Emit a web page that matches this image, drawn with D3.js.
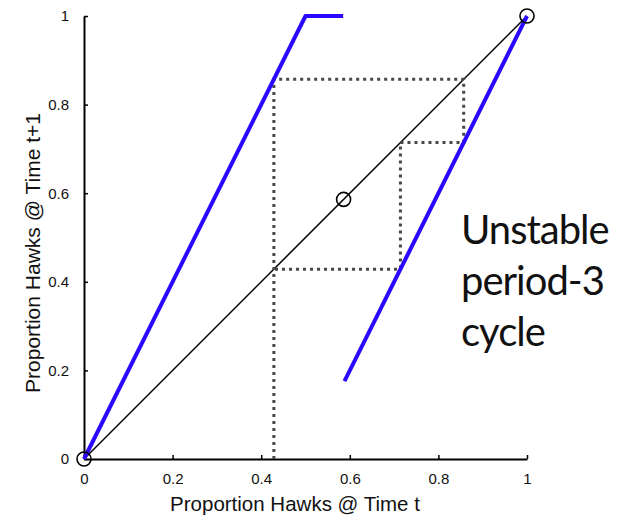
<!DOCTYPE html>
<html><head><meta charset="utf-8">
<script src="https://cdnjs.cloudflare.com/ajax/libs/d3/7.8.5/d3.min.js"></script>
<style>body{margin:0;background:#fff;}svg{display:block;}</style>
</head><body>
<script>
// Data
const tickValues = [0, 0.2, 0.4, 0.6, 0.8, 1];
const tickLabels = ["0", "0.2", "0.4", "0.6", "0.8", "1"];
const leftBranchX = [0, 0.5, 0.585];
const leftBranchY = [0, 1, 1];
const rightBranchX = [0.588, 1];
const rightBranchY = [0.176, 1];
const diagonalX = [0, 1];
const diagonalY = [0, 1];
const cycleX = [0.4286, 0.4286, 0.8571, 0.8571, 0.7143, 0.7143, 0.4286];
const cycleY = [0, 0.8571, 0.8571, 0.7143, 0.7143, 0.4286, 0.4286];
const fixedX = [0, 0.586, 1];
const fixedY = [0, 0.586, 1];
const annotationLines = ["Unstable", "period-3", "cycle"];
const xTitle = "Proportion Hawks @ Time t";
const yTitle = "Proportion Hawks @ Time t+1";

const W = 628, H = 517;
const svg = d3.select("body").append("svg").attr("width", W).attr("height", H);
const x = d3.scaleLinear().domain([0, 1]).range([84, 527]);
const y = d3.scaleLinear().domain([0, 1]).range([459, 16]);

const zip = (a, b) => a.map((v, i) => [v, b[i]]);
const line = d3.line().x(d => x(d[0])).y(d => y(d[1]));

// Axes
const fmt = (d) => tickLabels[tickValues.indexOf(d)];
const xAxis = svg.append("g").attr("transform", `translate(0,${y(0)})`)
  .call(d3.axisBottom(x).tickValues(tickValues).tickFormat(fmt).tickSizeInner(-4).tickSizeOuter(0).tickPadding(14));
const yAxis = svg.append("g").attr("transform", `translate(${x(0)},0)`)
  .call(d3.axisLeft(y).tickValues(tickValues).tickFormat(fmt).tickSizeInner(-4).tickSizeOuter(0).tickPadding(15));
[xAxis, yAxis].forEach(g => {
  g.select(".domain").attr("stroke", "#000").attr("stroke-width", 2);
  g.selectAll(".tick line").attr("stroke", "#000").attr("stroke-width", 1.5);
  g.selectAll(".tick text").attr("font-family", "'Liberation Sans', Arial, sans-serif").attr("font-size", 15).attr("fill", "#111");
});

// Diagonal
svg.append("path").attr("d", line(zip(diagonalX, diagonalY)))
  .attr("fill", "none").attr("stroke", "#000").attr("stroke-width", 1.5);

// Cobweb cycle
svg.append("path").attr("d", line(zip(cycleX, cycleY)))
  .attr("fill", "none").attr("stroke", "#474747").attr("stroke-width", 3)
  .attr("stroke-dasharray", "3,4");

// Map branches
[zip(leftBranchX, leftBranchY), zip(rightBranchX, rightBranchY)].forEach(pts => {
  svg.append("path").attr("d", line(pts))
    .attr("fill", "none").attr("stroke", "#2a08ff").attr("stroke-width", 4)
    .attr("stroke-linejoin", "round");
});

// Fixed point circles
svg.selectAll("circle.fp").data(zip(fixedX, fixedY)).join("circle")
  .attr("class", "fp")
  .attr("cx", d => x(d[0])).attr("cy", d => y(d[1])).attr("r", 7)
  .attr("fill", "none").attr("stroke", "#000").attr("stroke-width", 1.6);

// Titles
svg.append("text").attr("x", 295).attr("y", 511).attr("text-anchor", "middle")
  .attr("font-family", "'Liberation Sans', Arial, sans-serif").attr("font-size", 20.5).attr("fill", "#111")
  .text(xTitle);
svg.append("text").attr("transform", "translate(40,253) rotate(-90)").attr("text-anchor", "middle")
  .attr("font-family", "'Liberation Sans', Arial, sans-serif").attr("font-size", 21).attr("fill", "#111")
  .text(yTitle);

// Annotation
const ann = svg.append("text").attr("font-family", "Lato, sans-serif").attr("font-size", 40)
  .attr("letter-spacing", "-1px").attr("fill", "#111");
annotationLines.forEach((t, i) => {
  ann.append("tspan").attr("x", 461).attr("y", 244 + i * 51).text(t);
});
</script>
</body></html>
